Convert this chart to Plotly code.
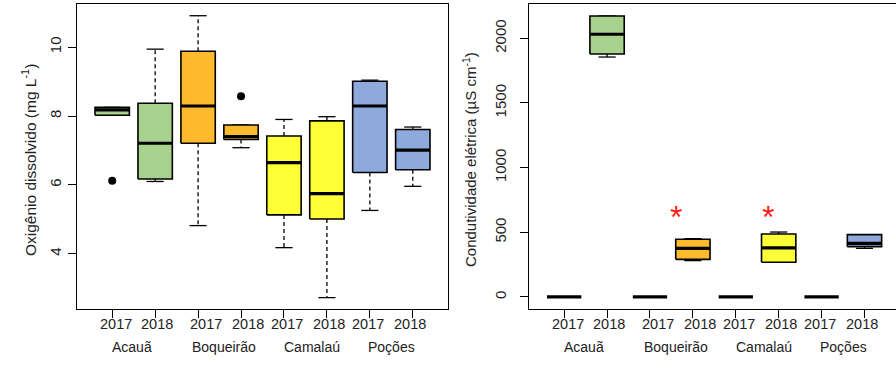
import plotly.graph_objects as go

# Groups: reservoir x year
sites = ["Acauã", "Boqueirão", "Camalaú", "Poções"]
years = ["2017", "2018", "2017", "2018", "2017", "2018", "2017", "2018"]
fills = ["#A9D18E", "#A9D18E", "#FDBA2D", "#FDBA2D",
         "#FFFF38", "#FFFF38", "#8EA9DB", "#8EA9DB"]

# Dissolved oxygen (mg/L): five-number summaries per group
od_low = [8.02, 6.10, 4.82, 7.08, 4.18, 2.73, 5.26, 5.96]
od_q1 = [8.02, 6.17, 7.21, 7.32, 5.13, 5.01, 6.36, 6.44]
od_med = [8.18, 7.21, 8.29, 7.40, 6.65, 5.75, 8.29, 7.01]
od_q3 = [8.25, 8.37, 9.88, 7.74, 7.42, 7.86, 9.01, 7.61]
od_high = [8.25, 9.94, 10.91, 7.74, 7.90, 7.98, 9.04, 7.68]
od_out_group = [1, 4]
od_out_value = [6.12, 8.57]

# Electrical conductivity (uS/cm)
ce_low = [0, 1855, 0, 281, 0, 268, 0, 376]
ce_q1 = [0, 1878, 0, 291, 0, 268, 0, 389]
ce_med = [0, 2031, 0, 376, 0, 379, 0, 415]
ce_q3 = [0, 2172, 0, 446, 0, 487, 0, 482]
ce_high = [0, 2172, 0, 451, 0, 502, 0, 482]
# significance marks between years
ce_star_x = [3.6, 5.75]
ce_star_y = [667, 667]

FONT = "Liberation Sans, Arial, sans-serif"
TXT = "#222"
BOX_HALF = 0.4
CAP_HALF = 0.2

fig = go.Figure()


def add_boxes(xa, ya, low, q1, med, q3, high):
    for i in range(len(med)):
        x = i + 1
        # whiskers (dashed) and staples
        for a, b in ((q3[i], high[i]), (q1[i], low[i])):
            if a != b:
                fig.add_trace(go.Scatter(x=[x, x], y=[a, b], mode="lines",
                                         line=dict(color="black", width=1.3, dash="4px,3px"),
                                         xaxis=xa, yaxis=ya, hoverinfo="skip"))
            if q1[i] != q3[i]:
                fig.add_trace(go.Scatter(x=[x - CAP_HALF, x + CAP_HALF], y=[b, b],
                                         mode="lines", line=dict(color="black", width=1.3),
                                         xaxis=xa, yaxis=ya, hoverinfo="skip"))
        # box body
        if q3[i] != q1[i]:
            fig.add_trace(go.Scatter(
                x=[x - BOX_HALF, x + BOX_HALF, x + BOX_HALF, x - BOX_HALF, x - BOX_HALF],
                y=[q1[i], q1[i], q3[i], q3[i], q1[i]],
                mode="lines", fill="toself", fillcolor=fills[i],
                line=dict(color="black", width=1.6),
                xaxis=xa, yaxis=ya, hoverinfo="skip"))
        # median
        fig.add_trace(go.Scatter(x=[x - BOX_HALF, x + BOX_HALF], y=[med[i], med[i]],
                                 mode="lines", line=dict(color="black", width=3.2),
                                 xaxis=xa, yaxis=ya, hoverinfo="skip"))


add_boxes("x", "y", od_low, od_q1, od_med, od_q3, od_high)
fig.add_trace(go.Scatter(x=od_out_group, y=od_out_value, mode="markers",
                         marker=dict(color="black", size=8),
                         xaxis="x", yaxis="y", hoverinfo="skip"))

add_boxes("x2", "y2", ce_low, ce_q1, ce_med, ce_q3, ce_high)

W, H = 896, 369
ticks = list(range(1, 9))
xrange_ = [0.18, 8.82]

axis_common = dict(showgrid=False, zeroline=False, showline=True, linecolor="black",
                   linewidth=1.3, ticks="outside", ticklen=8, tickwidth=1.3,
                   tickcolor="black", tickfont=dict(family=FONT, size=15, color=TXT))

fig.update_layout(
    width=W, height=H, margin=dict(l=0, r=0, t=0, b=0),
    paper_bgcolor="white", plot_bgcolor="white", showlegend=False,
    xaxis=dict(domain=[77 / W, 448 / W], range=xrange_, tickvals=ticks,
               showticklabels=False, mirror=True, **axis_common),
    yaxis=dict(domain=[1 - 309 / H, 1 - 4 / H], range=[2.4, 11.25],
               tickvals=[4, 6, 8, 10], tickangle=-90, mirror=True,
               ticklabelstandoff=1, **axis_common),
    xaxis2=dict(domain=[529 / W, 1.0], range=[0.18, 0.18 + (W - 529) / 42.9],
                tickvals=ticks, showticklabels=False, mirror=True, anchor="y2",
                **axis_common),
    yaxis2=dict(domain=[1 - 309 / H, 1 - 4 / H], range=[-93, 2265],
                tickvals=[0, 500, 1000, 1500, 2000], tickangle=-90, anchor="x2",
                ticklabelstandoff=8, **axis_common),
)

# year and site labels under each panel
year_shift = [0.08, 0.04, 0.19, 0.17, 0.07, 0.05, -0.04, -0.06]
site_pos = [1.46, 3.6, 5.65, 7.5]
annotations = []
for xa in ("x", "x2"):
    for i, yr in enumerate(years):
        annotations.append(dict(x=i + 1 + year_shift[i], y=1 - 334 / H, xref=xa, yref="paper",
                                text=yr, showarrow=False,
                                font=dict(family=FONT, size=14.5, color=TXT)))
    for j, s in enumerate(sites):
        annotations.append(dict(x=site_pos[j], y=1 - 357 / H, xref=xa, yref="paper",
                                text=s, showarrow=False,
                                font=dict(family=FONT, size=14, color=TXT)))

# red asterisks marking significant differences
for sx, sy in zip(ce_star_x, ce_star_y):
    annotations.append(dict(x=sx, y=sy, xref="x2", yref="y2", text="*", showarrow=False,
                            yshift=-6, font=dict(family=FONT, size=32, color="#FF1A1A")))

annotations.append(dict(x=17 / W, y=1 - 160 / H, xref="paper", yref="paper",
                        text="Oxigênio dissolvido (mg L<sup>-1</sup>)", textangle=-90,
                        showarrow=False, font=dict(family=FONT, size=15.5, color=TXT)))
annotations.append(dict(x=469 / W, y=1 - 160 / H, xref="paper", yref="paper",
                        text="Condutividade elétrica (µS cm<sup>-1</sup>)", textangle=-90,
                        showarrow=False, font=dict(family=FONT, size=15, color=TXT)))
fig.update_layout(annotations=annotations)

fig.write_html("out.html")
